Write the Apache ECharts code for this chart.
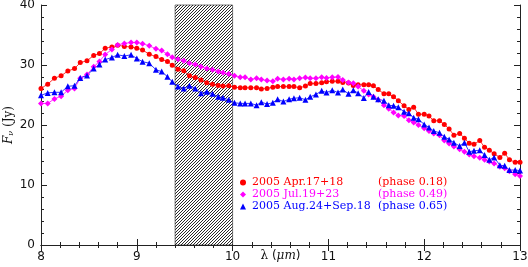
<!DOCTYPE html>
<html>
<head>
<meta charset="utf-8">
<script src="https://cdn.jsdelivr.net/npm/echarts@6/dist/echarts.min.js"></script>
<style>html,body{margin:0;padding:0;background:#fff}#c{width:528px;height:267px}</style>
</head>
<body>
<div id="c"></div>
<script>
// wavelength grid (micron)
const lambda = [8.00, 8.07, 8.14, 8.21, 8.28, 8.35, 8.41, 8.48, 8.55, 8.61, 8.67, 8.74, 8.80, 8.87, 8.94, 9.00, 9.06, 9.13, 9.20, 9.26, 9.32, 9.37, 9.43,
  9.49, 9.55, 9.61, 9.67, 9.73, 9.79, 9.85, 9.90, 9.96, 10.02, 10.08, 10.13, 10.19, 10.25, 10.30, 10.36, 10.42, 10.47, 10.53, 10.59, 10.64, 10.70, 10.76, 10.81, 10.87, 10.93, 10.98, 11.04, 11.10, 11.15, 11.21,
  11.26, 11.31, 11.37, 11.42, 11.47, 11.52, 11.58, 11.63, 11.68, 11.73, 11.79, 11.84, 11.89, 11.94, 12.00, 12.05, 12.10, 12.16, 12.21, 12.26, 12.31, 12.37, 12.42, 12.47, 12.52, 12.58, 12.63, 12.68, 12.73, 12.79, 12.84, 12.89, 12.95, 13.00];

const fluxApr = [26.1, 26.8, 27.8, 28.2, 29.0, 29.4, 30.4, 30.7, 31.6, 31.9, 32.8, 33.0, 33.3, 33.1, 33.0, 32.8, 32.5, 31.8, 31.4, 30.9, 30.6, 29.95, 29.3,
  29.05, 28.2, 27.9, 27.5, 27.05, 26.8, 26.6, 26.5, 26.55, 26.3, 26.2, 26.2, 26.2, 26.2, 26.0, 26.1, 26.3, 26.4, 26.4, 26.4, 26.4, 26.2, 26.5, 26.9, 26.9, 27.05, 27.2, 27.3, 27.3, 27.1, 27.0,
  26.6, 26.7, 26.7, 26.7, 26.55, 25.9, 25.2, 25.2, 24.7, 24.05, 23.2, 22.6, 22.95, 21.8, 21.8, 21.5, 20.7, 20.7, 20.1, 19.35, 18.3, 18.6, 17.8, 16.95, 16.8, 17.4, 16.3, 15.8, 15.2, 14.6, 15.3, 14.2, 13.8, 13.8];

const fluxJul = [23.6, 23.6, 24.35, 24.8, 25.8, 26.1, 27.8, 28.4, 29.7, 30.6, 31.75, 32.6, 33.35, 33.6, 33.75, 33.75, 33.55, 33.2, 32.7, 32.4, 31.8, 31.3, 30.95,
  30.7, 30.3, 30.1, 29.7, 29.4, 29.2, 28.9, 28.7, 28.5, 28.2, 27.95, 27.95, 27.6, 27.8, 27.6, 27.4, 27.3, 27.7, 27.6, 27.7, 27.6, 27.8, 27.9, 27.8, 27.8, 27.95, 27.85, 27.95, 28.0, 27.5, 27.1,
  26.95, 26.4, 25.7, 25.1, 24.7, 24.2, 23.3, 22.7, 22.1, 21.6, 21.5, 20.8, 20.4, 20.0, 19.45, 19.0, 18.6, 18.3, 17.4, 16.9, 16.4, 15.95, 15.55, 15.1, 14.8, 14.55, 14.2, 13.9, 13.6, 13.05, 12.8, 12.3, 11.8, 11.5];

const fluxAug = [24.95, 25.35, 25.45, 25.45, 26.45, 26.55, 27.85, 28.25, 29.4, 30.1, 30.9, 31.25, 31.7, 31.5, 31.7, 31.1, 30.55, 30.3, 29.2, 28.9, 28.05, 27.2, 26.4,
  26.1, 26.55, 26.1, 25.3, 25.55, 25.2, 24.7, 24.55, 24.2, 23.7, 23.6, 23.6, 23.6, 23.3, 23.8, 23.5, 23.7, 24.3, 23.9, 24.3, 24.45, 24.55, 24.2, 24.7, 25.1, 25.7, 25.4, 25.8, 25.4, 25.9, 25.2,
  25.8, 25.3, 24.5, 25.5, 24.7, 24.3, 24.05, 23.3, 23.2, 22.95, 22.2, 21.95, 21.2, 20.95, 20.1, 19.6, 19.0, 18.7, 18.05, 17.6, 17.05, 16.5, 17.05, 15.55, 15.7, 15.8, 15.0, 14.2, 14.6, 13.3, 13.2, 12.5, 12.5, 12.4];

const seriesNames = ['2005 Apr.17+18', '2005 Jul.19+23', '2005 Aug.24+Sep.18'];
const phases = ['(phase 0.18)', '(phase 0.49)', '(phase 0.65)'];
const hatchRange = [9.4, 10.0];
const xTicks = [8, 9, 10, 11, 12, 13];
const yTicks = [0, 10, 20, 30, 40];

const colors = ['#ff0000', '#ff00ff', '#0000ff'];
const symbols = ['circle', 'diamond', 'triangle'];
const symSizes = [5, 6, 6];
const fluxes = [fluxApr, fluxJul, fluxAug];

// hatch pattern
const P = 3;
const pc = document.createElement('canvas');
pc.width = P; pc.height = P;
const g = pc.getContext('2d');
g.fillStyle = '#fff'; g.fillRect(0, 0, P, P);
g.strokeStyle = '#111'; g.lineWidth = 0.9;
g.beginPath();
g.moveTo(-1, P + 1); g.lineTo(P + 1, -1);
g.moveTo(-1, 1); g.lineTo(1, -1);
g.moveTo(P - 1, P + 1); g.lineTo(P + 1, P - 1);
g.stroke();

const chart = echarts.init(document.getElementById('c'), null, {renderer: 'canvas'});

const axisCommon = {
  type: 'value',
  axisLine: {show: true, lineStyle: {color: '#222', width: 1}},
  axisTick: {show: true, inside: true, length: 6, lineStyle: {color: '#222'}},
  minorTick: {show: true, splitNumber: 5, length: 3, lineStyle: {color: '#222'}},
  splitLine: {show: false},
  minorSplitLine: {show: false}
};

const series = fluxes.map((f, i) => ({
  name: seriesNames[i],
  type: 'line',
  z: 5,
  data: lambda.map((l, k) => [l, f[k]]),
  symbol: symbols[i],
  symbolSize: symSizes[i],
  itemStyle: {color: colors[i]},
  lineStyle: {color: colors[i], width: 0.8},
  animation: false
}));

series.unshift({
  name: 'hatch',
  type: 'line',
  z: 1,
  data: [],
  markArea: {
    silent: true,
    itemStyle: {color: {image: pc, repeat: 'repeat'}, borderColor: '#222', borderWidth: 0.6},
    data: [[{xAxis: hatchRange[0]}, {xAxis: hatchRange[1]}]]
  },
  animation: false
});

chart.setOption({
  animation: false,
  grid: {left: 41, right: 8, top: 5, bottom: 22, containLabel: false, outerBoundsMode: 'none'},
  legend: {
    data: seriesNames.map((n, i) => ({name: n, icon: symbols[i], textStyle: {color: colors[i]}})),
    orient: 'vertical',
    left: 235,
    top: 172,
    itemWidth: 6,
    itemHeight: 6,
    itemGap: 1,
    selectedMode: false,
    formatter: function (name) {
      const i = seriesNames.indexOf(name);
      return '{n|' + name + '}{p|' + phases[i] + '}';
    },
    textStyle: {
      fontFamily: 'DejaVu Serif',
      fontSize: 11,
      padding: [0, 0, 0, 1],
      rich: {
        n: {fontFamily: 'DejaVu Serif', fontSize: 11, width: 126, lineHeight: 12},
        p: {fontFamily: 'DejaVu Serif', fontSize: 11, lineHeight: 12}
      }
    }
  },
  xAxis: [
    Object.assign({}, axisCommon, {
      position: 'bottom', min: xTicks[0], max: xTicks[xTicks.length - 1], interval: 1,
      axisLabel: {show: true, color: '#111', fontFamily: 'DejaVu Sans', fontSize: 12, margin: 6},
      name: '{l|λ} ({m|μm})',
      nameLocation: 'middle',
      nameGap: 5,
      nameMoveOverlap: false,
      nameTextStyle: {
        color: '#111', fontFamily: 'DejaVu Sans', fontSize: 12,
        rich: {l: {fontFamily: 'DejaVu Serif', fontSize: 12}, m: {fontFamily: 'DejaVu Serif', fontStyle: 'italic', fontSize: 12}}
      }
    }),
    Object.assign({}, axisCommon, {
      position: 'top', min: xTicks[0], max: xTicks[xTicks.length - 1], interval: 1,
      axisLabel: {show: false}
    })
  ],
  yAxis: [
    Object.assign({}, axisCommon, {
      position: 'left', min: yTicks[0], max: yTicks[yTicks.length - 1], interval: 10,
      axisLabel: {show: true, color: '#111', fontFamily: 'DejaVu Sans', fontSize: 12, margin: 6},
      name: '{f|F}{nu|ν} (Jy)',
      nameLocation: 'middle',
      nameGap: 26,
      nameMoveOverlap: false,
      nameTextStyle: {
        color: '#111', fontFamily: 'DejaVu Serif', fontSize: 12,
        rich: {f: {fontFamily: 'DejaVu Serif', fontStyle: 'italic', fontSize: 12},
               nu: {fontFamily: 'DejaVu Serif', fontStyle: 'italic', fontSize: 8, verticalAlign: 'bottom'}}
      }
    }),
    Object.assign({}, axisCommon, {
      position: 'right', min: yTicks[0], max: yTicks[yTicks.length - 1], interval: 10,
      axisLabel: {show: false}
    })
  ],
  series: series
});
</script>
</body>
</html>
